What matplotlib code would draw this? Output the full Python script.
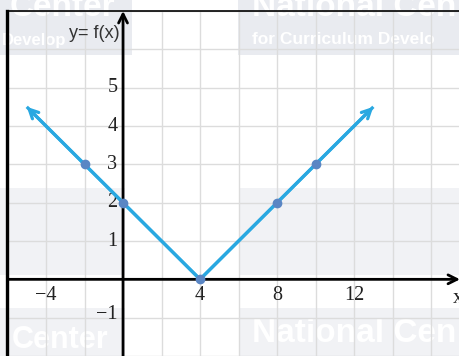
import matplotlib
matplotlib.use("Agg")
import matplotlib.pyplot as plt
from matplotlib.patches import Rectangle

# ---------- data ----------
curve_x = [-5, 4, 13]          # arrow tip, vertex, arrow tip
curve_y = [4.5, 0, 4.5]
pts_x = [-2, 0, 4, 8, 10]
pts_y = [3, 2, 0, 2, 3]
xtick_vals = [-4, 4, 8, 12]
xtick_labels = ["\u22124", "4", "8", "12"]
ytick_vals = [5, 4, 3, 2, 1, -1]
ytick_labels = ["5", "4", "3", "2", "1", "\u22121"]

LINE_C = "#29a8e1"
DOT_C = "#5a86c4"
GRID_C = "#dcdcdc"
WM_C = "#e9ebf0"
WM_C2 = "#f1f2f5"

W, H = 460, 356
fig = plt.figure(figsize=(W / 100, H / 100), dpi=100)
fig.patch.set_facecolor("white")

# ---------- faint watermark (behind axes) ----------
def px_rect(x0, y0, x1, y1, color=WM_C):
    fig.patches.append(Rectangle((x0 / W, 1 - y1 / H), (x1 - x0) / W, (y1 - y0) / H,
                                 transform=fig.transFigure, facecolor=color,
                                 edgecolor="none", zorder=-5))

def px_text(x, y, s, size, **kw):
    fig.text(x / W, 1 - y / H, s, fontsize=size, color="white", fontweight="bold",
             family="Liberation Sans", va="center", zorder=-4, **kw)

px_rect(0, 0, 132, 55)
px_rect(238, 0, 460, 55)
px_rect(0, 188, 125, 275, color=WM_C2)
px_rect(240, 188, 460, 275, color=WM_C2)
px_rect(0, 308, 125, 356, color=WM_C2)
px_rect(240, 308, 460, 356, color=WM_C2)
px_text(10, 8, "Center", 24)
px_text(2, 40, "Develop", 12)
px_text(252, 8, "National Cen", 24)
px_text(252, 40, "for Curriculum Develo", 12.5)
px_text(12, 340, "Center", 22)
px_text(252, 334, "National Cen", 24)

# ---------- axes ----------
left = 7.5 / W
top = 1 - 11 / H
ax = fig.add_axes([left, 0, 1 - left, top])
ax.patch.set_alpha(0)
ax.set_xlim(-6, 17.5)
ax.set_ylim(-2, 7)

ax.set_xticks(range(-6, 18, 2))
ax.set_yticks(range(-2, 8, 1))
ax.tick_params(length=0, labelbottom=False, labelleft=False)
ax.grid(True, color=GRID_C, lw=1.0)
ax.set_axisbelow(True)

for s in ("right", "bottom"):
    ax.spines[s].set_visible(False)
ax.spines["left"].set_linewidth(2.4)
ax.spines["top"].set_linewidth(1.2)

# coordinate axes with arrowheads
ax.annotate("", xy=(17.5, 0), xytext=(-6, 0),
            arrowprops=dict(arrowstyle="->", lw=2.0, color="black",
                            mutation_scale=16, shrinkA=0, shrinkB=0),
            annotation_clip=False)
ax.annotate("", xy=(0, 7), xytext=(0, -2),
            arrowprops=dict(arrowstyle="->", lw=2.0, color="black",
                            mutation_scale=16, shrinkA=0, shrinkB=0),
            annotation_clip=False)

# function graph
ax.plot(curve_x, curve_y, color=LINE_C, lw=2.3, solid_capstyle="butt", zorder=4)
for i, j in ((0, 1), (-1, -2)):
    ax.annotate("", xy=(curve_x[i], curve_y[i]),
                xytext=(curve_x[j], curve_y[j]),
                arrowprops=dict(arrowstyle="->", lw=2.3, color=LINE_C,
                                mutation_scale=16, shrinkA=0, shrinkB=0),
                zorder=4)
ax.plot(pts_x, pts_y, "o", color=DOT_C, ms=6, zorder=5)

# tick labels
serif = "Liberation Serif"
for v, lab in zip(xtick_vals, xtick_labels):
    ax.text(v, -0.42, lab, ha="center", va="center", fontsize=14.5,
            family=serif, color="#222222")
for v, lab in zip(ytick_vals, ytick_labels):
    ax.text(-0.3, v + (0.08 if v < 0 else 0), lab, ha="right", va="center",
            fontsize=14.5, family=serif, color="#222222")

ax.text(17.15, -0.5, "x", ha="left", va="center", fontsize=15,
        family=serif, color="#222222")
ax.text(-0.2, 6.42, "y= f(x)", ha="right", va="center", fontsize=13,
        family="Liberation Sans", color="#333333")

fig.savefig("out.png", dpi=100)
